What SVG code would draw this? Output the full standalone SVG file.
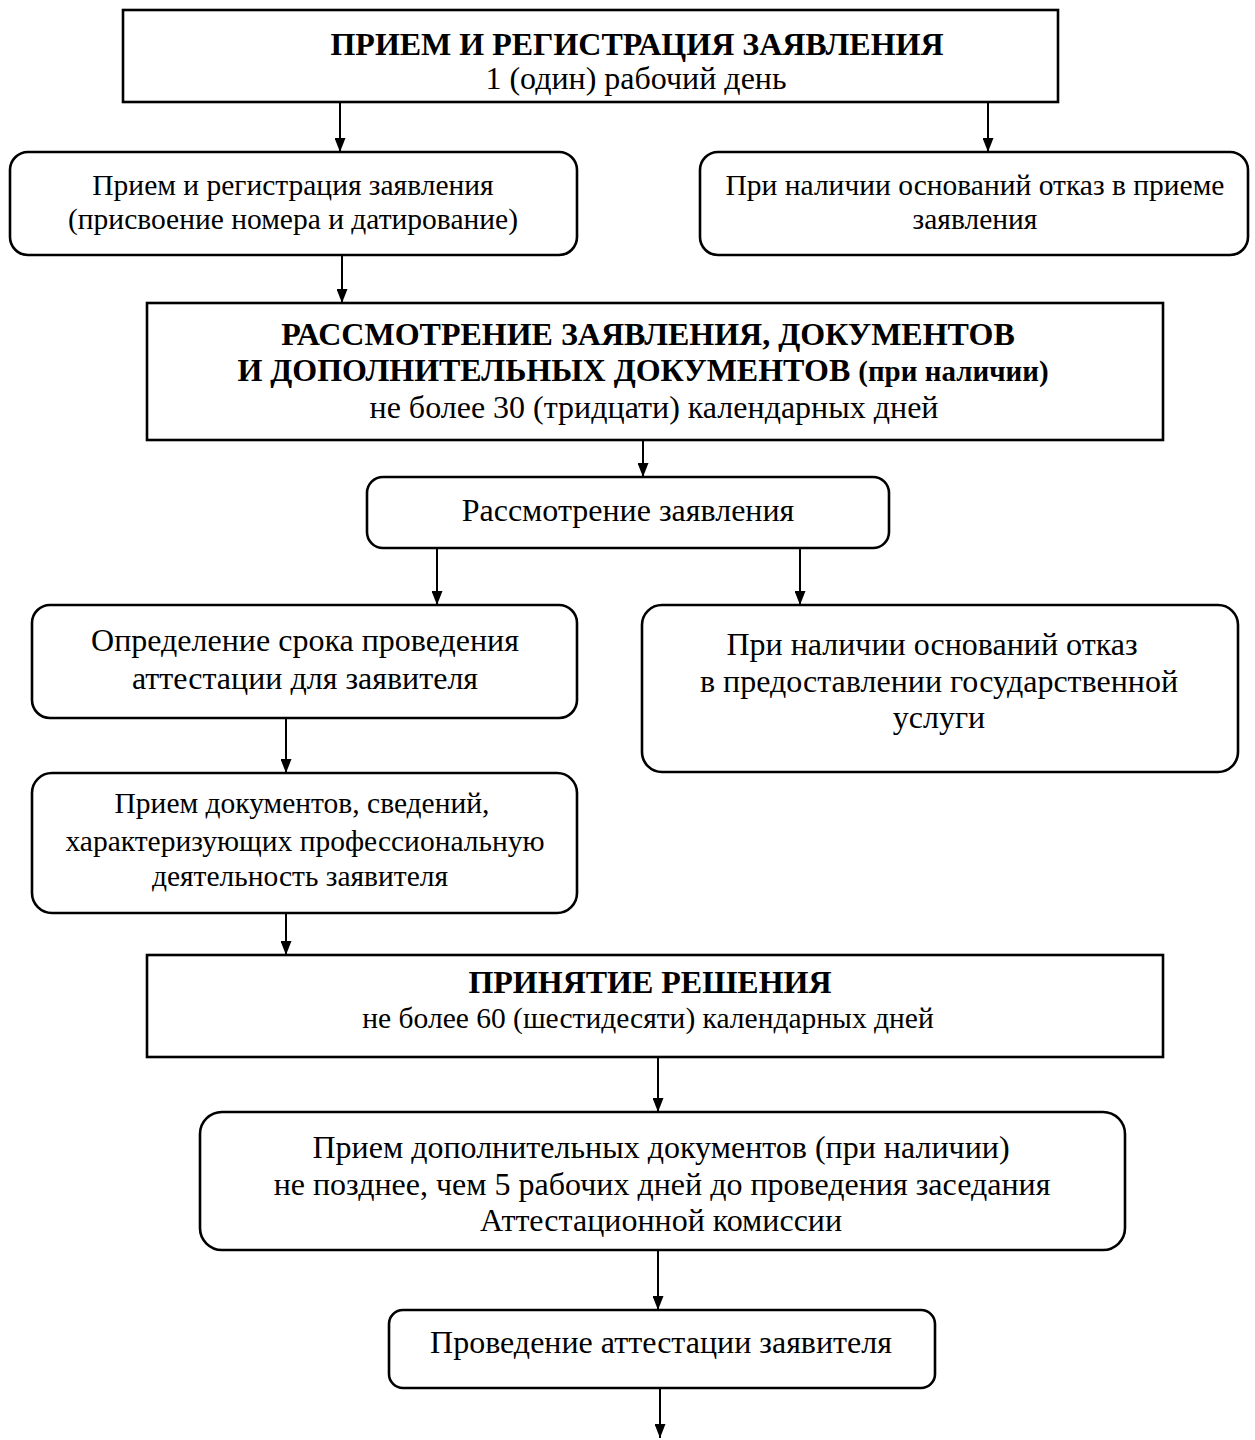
<svg xmlns="http://www.w3.org/2000/svg" width="1255" height="1440" viewBox="0 0 1255 1440">
<defs>
<style>
.b{fill:#fff;stroke:#000;stroke-width:2.6}
.t{font-family:"Liberation Serif","Times New Roman",serif;font-size:32px;fill:#000;text-anchor:middle}
.s{font-size:29.5px}
.h{font-weight:bold}
.c{stroke:#000;stroke-width:2;fill:none;marker-end:url(#ah)}
</style>
<marker id="ah" viewBox="0 0 14 11" refX="14" refY="5.5" markerWidth="14" markerHeight="11" markerUnits="userSpaceOnUse" orient="auto">
<path d="M0,0 L14,5.5 L0,11 z" fill="#000"/>
</marker>
</defs>
<rect width="1255" height="1440" fill="#fff"/>
<g id="connectors">
<line class="c" x1="340" y1="102" x2="340" y2="152"/>
<line class="c" x1="988" y1="102" x2="988" y2="152"/>
<line class="c" x1="342" y1="255" x2="342" y2="303"/>
<line class="c" x1="643" y1="440" x2="643" y2="477"/>
<line class="c" x1="437" y1="548" x2="437" y2="605"/>
<line class="c" x1="800" y1="548" x2="800" y2="605"/>
<line class="c" x1="286" y1="718" x2="286" y2="773"/>
<line class="c" x1="286" y1="913" x2="286" y2="955"/>
<line class="c" x1="658" y1="1057" x2="658" y2="1112"/>
<line class="c" x1="658" y1="1250" x2="658" y2="1310"/>
<line class="c" x1="660" y1="1388" x2="660" y2="1438"/>
</g>
<g id="n1"><rect class="b" x="123" y="10" width="935" height="92"/>
<text class="t h" x="637" y="55">ПРИЕМ И РЕГИСТРАЦИЯ ЗАЯВЛЕНИЯ</text>
<text class="t" x="636" y="89">1 (один) рабочий день</text></g>
<g id="n2"><rect class="b" x="10" y="152" width="567" height="103" rx="18"/>
<text class="t s" x="293" y="195">Прием и регистрация заявления</text>
<text class="t s" x="293" y="229">(присвоение номера и датирование)</text></g>
<g id="n3"><rect class="b" x="700" y="152" width="548" height="103" rx="18"/>
<text class="t s" x="975" y="195">При наличии оснований отказ в приеме</text>
<text class="t s" x="975" y="229">заявления</text></g>
<g id="n4"><rect class="b" x="147" y="303" width="1016" height="137"/>
<text class="t h" x="648" y="345" font-size="33.5">РАССМОТРЕНИЕ ЗАЯВЛЕНИЯ, ДОКУМЕНТОВ</text>
<text class="t h" x="643" y="381" font-size="33.5">И ДОПОЛНИТЕЛЬНЫХ ДОКУМЕНТОВ <tspan font-size="29">(при наличии)</tspan></text>
<text class="t" x="654" y="418">не более 30 (тридцати) календарных дней</text></g>
<g id="n5"><rect class="b" x="367" y="477" width="522" height="71" rx="16"/>
<text class="t" x="628" y="521">Рассмотрение заявления</text></g>
<g id="n6"><rect class="b" x="32" y="605" width="545" height="113" rx="18"/>
<text class="t" x="305" y="651">Определение срока проведения</text>
<text class="t" x="305" y="689">аттестации для заявителя</text></g>
<g id="n7"><rect class="b" x="642" y="605" width="596" height="167" rx="20"/>
<text class="t" x="932" y="655">При наличии оснований отказ</text>
<text class="t" x="939" y="692">в предоставлении государственной</text>
<text class="t" x="939" y="728">услуги</text></g>
<g id="n8"><rect class="b" x="32" y="773" width="545" height="140" rx="20"/>
<text class="t s" x="302" y="813">Прием документов, сведений,</text>
<text class="t s" x="305" y="851">характеризующих профессиональную</text>
<text class="t s" x="300" y="886">деятельность заявителя</text></g>
<g id="n9"><rect class="b" x="147" y="955" width="1016" height="102"/>
<text class="t h" x="650" y="993" font-size="25">ПРИНЯТИЕ РЕШЕНИЯ</text>
<text class="t s" x="648" y="1028">не более 60 (шестидесяти) календарных дней</text></g>
<g id="n10"><rect class="b" x="200" y="1112" width="925" height="138" rx="22"/>
<text class="t" x="661" y="1158">Прием дополнительных документов (при наличии)</text>
<text class="t" x="662" y="1195">не позднее, чем 5 рабочих дней до проведения заседания</text>
<text class="t" x="661" y="1231">Аттестационной комиссии</text></g>
<g id="n11"><rect class="b" x="389" y="1310" width="546" height="78" rx="14"/>
<text class="t" x="661" y="1353">Проведение аттестации заявителя</text></g>
</svg>
